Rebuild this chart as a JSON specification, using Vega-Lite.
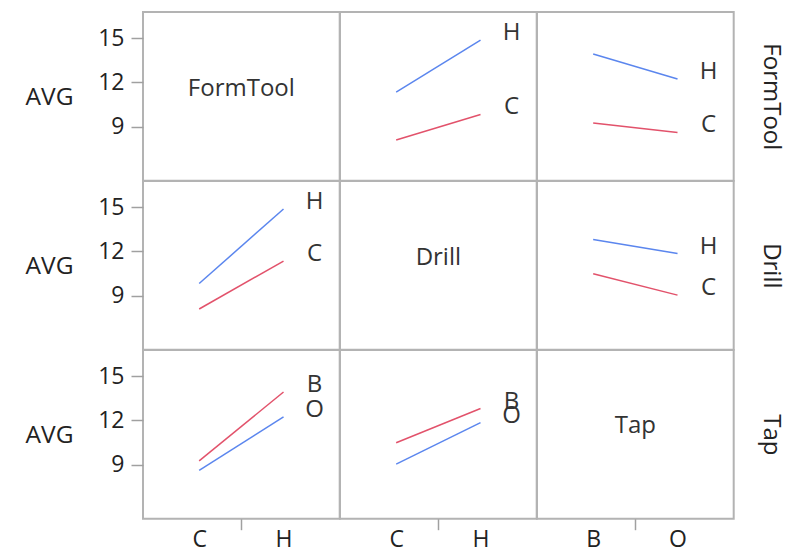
{
  "$schema": "https://vega.github.io/schema/vega-lite/v6.json",
  "background": "white",
  "padding": {"left": 24, "top": 11, "right": 5, "bottom": 5},
  "datasets": {
    "means": [
      {"r": "FormTool", "c": "Drill", "t": "C", "x": "C", "avg": 8.09},
      {"r": "FormTool", "c": "Drill", "t": "C", "x": "H", "avg": 9.82},
      {"r": "FormTool", "c": "Drill", "t": "H", "x": "C", "avg": 11.34},
      {"r": "FormTool", "c": "Drill", "t": "H", "x": "H", "avg": 14.87},
      {"r": "FormTool", "c": "Tap", "t": "C", "x": "B", "avg": 9.25},
      {"r": "FormTool", "c": "Tap", "t": "C", "x": "O", "avg": 8.6},
      {"r": "FormTool", "c": "Tap", "t": "H", "x": "B", "avg": 13.92},
      {"r": "FormTool", "c": "Tap", "t": "H", "x": "O", "avg": 12.23},
      {"r": "Drill", "c": "FormTool", "t": "C", "x": "C", "avg": 8.09},
      {"r": "Drill", "c": "FormTool", "t": "C", "x": "H", "avg": 11.34},
      {"r": "Drill", "c": "FormTool", "t": "H", "x": "C", "avg": 9.82},
      {"r": "Drill", "c": "FormTool", "t": "H", "x": "H", "avg": 14.87},
      {"r": "Drill", "c": "Tap", "t": "C", "x": "B", "avg": 10.48},
      {"r": "Drill", "c": "Tap", "t": "C", "x": "O", "avg": 9.03},
      {"r": "Drill", "c": "Tap", "t": "H", "x": "B", "avg": 12.8},
      {"r": "Drill", "c": "Tap", "t": "H", "x": "O", "avg": 11.85},
      {"r": "Tap", "c": "FormTool", "t": "B", "x": "C", "avg": 9.25},
      {"r": "Tap", "c": "FormTool", "t": "B", "x": "H", "avg": 13.92},
      {"r": "Tap", "c": "FormTool", "t": "O", "x": "C", "avg": 8.6},
      {"r": "Tap", "c": "FormTool", "t": "O", "x": "H", "avg": 12.23},
      {"r": "Tap", "c": "Drill", "t": "B", "x": "C", "avg": 10.48},
      {"r": "Tap", "c": "Drill", "t": "B", "x": "H", "avg": 12.8},
      {"r": "Tap", "c": "Drill", "t": "O", "x": "C", "avg": 9.03},
      {"r": "Tap", "c": "Drill", "t": "O", "x": "H", "avg": 11.85}
    ],
    "factors": [{"f": "FormTool"}, {"f": "Drill"}, {"f": "Tap"}]
  },
  "columns": 3,
  "spacing": 0,
  "bounds": "flush",
  "concat": [
    {
      "width": 196.7, "height": 168.7,
      "data": {"name": "factors"},
      "transform": [{"filter": "datum.f === 'FormTool'"}],
      "mark": {"type": "text", "fontSize": 24, "dy": -7, "color": "#333", "baseline": "middle"},
      "encoding": {
        "text": {"field": "f"},
        "x": {"datum": "C", "type": "nominal", "bandPosition": 1, "scale": {"type": "band", "domain": ["C", "H"], "paddingInner": 0, "paddingOuter": 0.166}, "axis": null},
        "y": {"datum": 11.05, "type": "quantitative", "scale": {"domain": [5.33, 16.77], "nice": false, "zero": false},
          "axis": {"title": "AVG", "values": [9, 12, 15], "titleAngle": 0, "titleAlign": "right", "titleBaseline": "middle", "titleX": -70, "titleY": 85.6, "tickSize": 12, "labelPadding": 7}}
      }
    },
    {
      "width": 196.7, "height": 168.7,
      "data": {"name": "means"},
      "transform": [{"filter": "datum.r === 'FormTool' && datum.c === 'Drill'"}],
      "encoding": {
        "x": {"field": "x", "type": "nominal", "scale": {"type": "band", "domain": ["C", "H"], "paddingInner": 0, "paddingOuter": 0.166}, "axis": null},
        "y": {"field": "avg", "type": "quantitative", "scale": {"domain": [5.33, 16.77], "nice": false, "zero": false}, "axis": null},
        "color": {"field": "t", "type": "nominal", "scale": {"domain": ["C", "H", "B", "O"], "range": ["#e2526b", "#5b86ee", "#e2526b", "#5b86ee"]}, "legend": null}
      },
      "layer": [
        {"mark": {"type": "line", "strokeWidth": 1.5}},
        {"transform": [{"filter": "datum.x === 'H' || datum.x === 'O'"}],
         "mark": {"type": "text", "fontSize": 24, "dx": 31, "dy": -7, "baseline": "middle"},
         "encoding": {"text": {"field": "t"}, "color": {"value": "#333"}}}
      ]
    },
    {
      "width": 196.7, "height": 168.7,
      "data": {"name": "means"},
      "transform": [{"filter": "datum.r === 'FormTool' && datum.c === 'Tap'"}],
      "encoding": {
        "x": {"field": "x", "type": "nominal", "scale": {"type": "band", "domain": ["B", "O"], "paddingInner": 0, "paddingOuter": 0.166}, "axis": null},
        "y": {"field": "avg", "type": "quantitative", "scale": {"domain": [5.33, 16.77], "nice": false, "zero": false},
          "axis": {"orient": "right", "title": "FormTool", "labels": false, "ticks": false, "titleAngle": 90, "titleAlign": "center", "titleBaseline": "middle", "titleX": 36.5, "titleY": 84.35, "titleFontSize": 24}},
        "color": {"field": "t", "type": "nominal", "scale": {"domain": ["C", "H", "B", "O"], "range": ["#e2526b", "#5b86ee", "#e2526b", "#5b86ee"]}, "legend": null}
      },
      "layer": [
        {"mark": {"type": "line", "strokeWidth": 1.5}},
        {"transform": [{"filter": "datum.x === 'H' || datum.x === 'O'"}],
         "mark": {"type": "text", "fontSize": 24, "dx": 31, "dy": -7, "baseline": "middle"},
         "encoding": {"text": {"field": "t"}, "color": {"value": "#333"}}}
      ]
    },
    {
      "width": 196.7, "height": 168.7,
      "data": {"name": "means"},
      "transform": [{"filter": "datum.r === 'Drill' && datum.c === 'FormTool'"}],
      "encoding": {
        "x": {"field": "x", "type": "nominal", "scale": {"type": "band", "domain": ["C", "H"], "paddingInner": 0, "paddingOuter": 0.166}, "axis": null},
        "y": {"field": "avg", "type": "quantitative", "scale": {"domain": [5.33, 16.77], "nice": false, "zero": false},
          "axis": {"title": "AVG", "values": [9, 12, 15], "titleAngle": 0, "titleAlign": "right", "titleBaseline": "middle", "titleX": -70, "titleY": 85.6, "tickSize": 12, "labelPadding": 7}},
        "color": {"field": "t", "type": "nominal", "scale": {"domain": ["C", "H", "B", "O"], "range": ["#e2526b", "#5b86ee", "#e2526b", "#5b86ee"]}, "legend": null}
      },
      "layer": [
        {"mark": {"type": "line", "strokeWidth": 1.5}},
        {"transform": [{"filter": "datum.x === 'H' || datum.x === 'O'"}],
         "mark": {"type": "text", "fontSize": 24, "dx": 31, "dy": -7, "baseline": "middle"},
         "encoding": {"text": {"field": "t"}, "color": {"value": "#333"}}}
      ]
    },
    {
      "width": 196.7, "height": 168.7,
      "data": {"name": "factors"},
      "transform": [{"filter": "datum.f === 'Drill'"}],
      "mark": {"type": "text", "fontSize": 24, "dy": -7, "color": "#333", "baseline": "middle"},
      "encoding": {
        "text": {"field": "f"},
        "x": {"datum": "C", "type": "nominal", "bandPosition": 1, "scale": {"type": "band", "domain": ["C", "H"], "paddingInner": 0, "paddingOuter": 0.166}, "axis": null},
        "y": {"datum": 11.05, "type": "quantitative", "scale": {"domain": [5.33, 16.77], "nice": false, "zero": false}, "axis": null}
      }
    },
    {
      "width": 196.7, "height": 168.7,
      "data": {"name": "means"},
      "transform": [{"filter": "datum.r === 'Drill' && datum.c === 'Tap'"}],
      "encoding": {
        "x": {"field": "x", "type": "nominal", "scale": {"type": "band", "domain": ["B", "O"], "paddingInner": 0, "paddingOuter": 0.166}, "axis": null},
        "y": {"field": "avg", "type": "quantitative", "scale": {"domain": [5.33, 16.77], "nice": false, "zero": false},
          "axis": {"orient": "right", "title": "Drill", "labels": false, "ticks": false, "titleAngle": 90, "titleAlign": "center", "titleBaseline": "middle", "titleX": 36.5, "titleY": 84.35, "titleFontSize": 24}},
        "color": {"field": "t", "type": "nominal", "scale": {"domain": ["C", "H", "B", "O"], "range": ["#e2526b", "#5b86ee", "#e2526b", "#5b86ee"]}, "legend": null}
      },
      "layer": [
        {"mark": {"type": "line", "strokeWidth": 1.5}},
        {"transform": [{"filter": "datum.x === 'H' || datum.x === 'O'"}],
         "mark": {"type": "text", "fontSize": 24, "dx": 31, "dy": -7, "baseline": "middle"},
         "encoding": {"text": {"field": "t"}, "color": {"value": "#333"}}}
      ]
    },
    {
      "width": 196.7, "height": 168.7,
      "data": {"name": "means"},
      "transform": [{"filter": "datum.r === 'Tap' && datum.c === 'FormTool'"}],
      "encoding": {
        "x": {"field": "x", "type": "nominal", "scale": {"type": "band", "domain": ["C", "H"], "paddingInner": 0, "paddingOuter": 0.166},
          "axis": {"title": null, "labelAngle": 0, "tickBand": "extent", "tickSize": 11, "labelPadding": -1, "tickOpacity": {"condition": {"test": "datum.value === 'C' || datum.value === 'B'", "value": 1}, "value": 0}}},
        "y": {"field": "avg", "type": "quantitative", "scale": {"domain": [5.33, 16.77], "nice": false, "zero": false},
          "axis": {"title": "AVG", "values": [9, 12, 15], "titleAngle": 0, "titleAlign": "right", "titleBaseline": "middle", "titleX": -70, "titleY": 85.6, "tickSize": 12, "labelPadding": 7}},
        "color": {"field": "t", "type": "nominal", "scale": {"domain": ["C", "H", "B", "O"], "range": ["#e2526b", "#5b86ee", "#e2526b", "#5b86ee"]}, "legend": null}
      },
      "layer": [
        {"mark": {"type": "line", "strokeWidth": 1.5}},
        {"transform": [{"filter": "datum.x === 'H' || datum.x === 'O'"}],
         "mark": {"type": "text", "fontSize": 24, "dx": 31, "dy": -7, "baseline": "middle"},
         "encoding": {"text": {"field": "t"}, "color": {"value": "#333"}}}
      ]
    },
    {
      "width": 196.7, "height": 168.7,
      "data": {"name": "means"},
      "transform": [{"filter": "datum.r === 'Tap' && datum.c === 'Drill'"}],
      "encoding": {
        "x": {"field": "x", "type": "nominal", "scale": {"type": "band", "domain": ["C", "H"], "paddingInner": 0, "paddingOuter": 0.166},
          "axis": {"title": null, "labelAngle": 0, "tickBand": "extent", "tickSize": 11, "labelPadding": -1, "tickOpacity": {"condition": {"test": "datum.value === 'C' || datum.value === 'B'", "value": 1}, "value": 0}}},
        "y": {"field": "avg", "type": "quantitative", "scale": {"domain": [5.33, 16.77], "nice": false, "zero": false}, "axis": null},
        "color": {"field": "t", "type": "nominal", "scale": {"domain": ["C", "H", "B", "O"], "range": ["#e2526b", "#5b86ee", "#e2526b", "#5b86ee"]}, "legend": null}
      },
      "layer": [
        {"mark": {"type": "line", "strokeWidth": 1.5}},
        {"transform": [{"filter": "datum.x === 'H' || datum.x === 'O'"}],
         "mark": {"type": "text", "fontSize": 24, "dx": 31, "dy": -7, "baseline": "middle"},
         "encoding": {"text": {"field": "t"}, "color": {"value": "#333"}}}
      ]
    },
    {
      "width": 196.7, "height": 168.7,
      "data": {"name": "factors"},
      "transform": [{"filter": "datum.f === 'Tap'"}],
      "mark": {"type": "text", "fontSize": 24, "dy": -8, "color": "#333", "baseline": "middle"},
      "encoding": {
        "text": {"field": "f"},
        "x": {"datum": "B", "type": "nominal", "bandPosition": 1, "scale": {"type": "band", "domain": ["B", "O"], "paddingInner": 0, "paddingOuter": 0.166},
          "axis": {"title": null, "labelAngle": 0, "tickBand": "extent", "tickSize": 11, "labelPadding": -1, "tickOpacity": {"condition": {"test": "datum.value === 'C' || datum.value === 'B'", "value": 1}, "value": 0}}},
        "y": {"datum": 11.05, "type": "quantitative", "scale": {"domain": [5.33, 16.77], "nice": false, "zero": false},
          "axis": {"orient": "right", "title": "Tap", "labels": false, "ticks": false, "titleAngle": 90, "titleAlign": "center", "titleBaseline": "middle", "titleX": 36.5, "titleY": 84.35, "titleFontSize": 24}}
      }
    }
  ],
  "config": {
    "font": "Open Sans",
    "view": {"stroke": "#b3b3b3", "strokeWidth": 2},
    "axis": {
      "grid": false, "domain": false,
      "labelFont": "Open Sans", "labelFontSize": 23, "labelColor": "#222",
      "titleFont": "Open Sans", "titleFontSize": 24.5, "titleFontWeight": "normal", "titleColor": "#222",
      "tickColor": "#a0a0a0", "tickWidth": 1.5
    },
    "text": {"font": "Open Sans"}
  }
}
